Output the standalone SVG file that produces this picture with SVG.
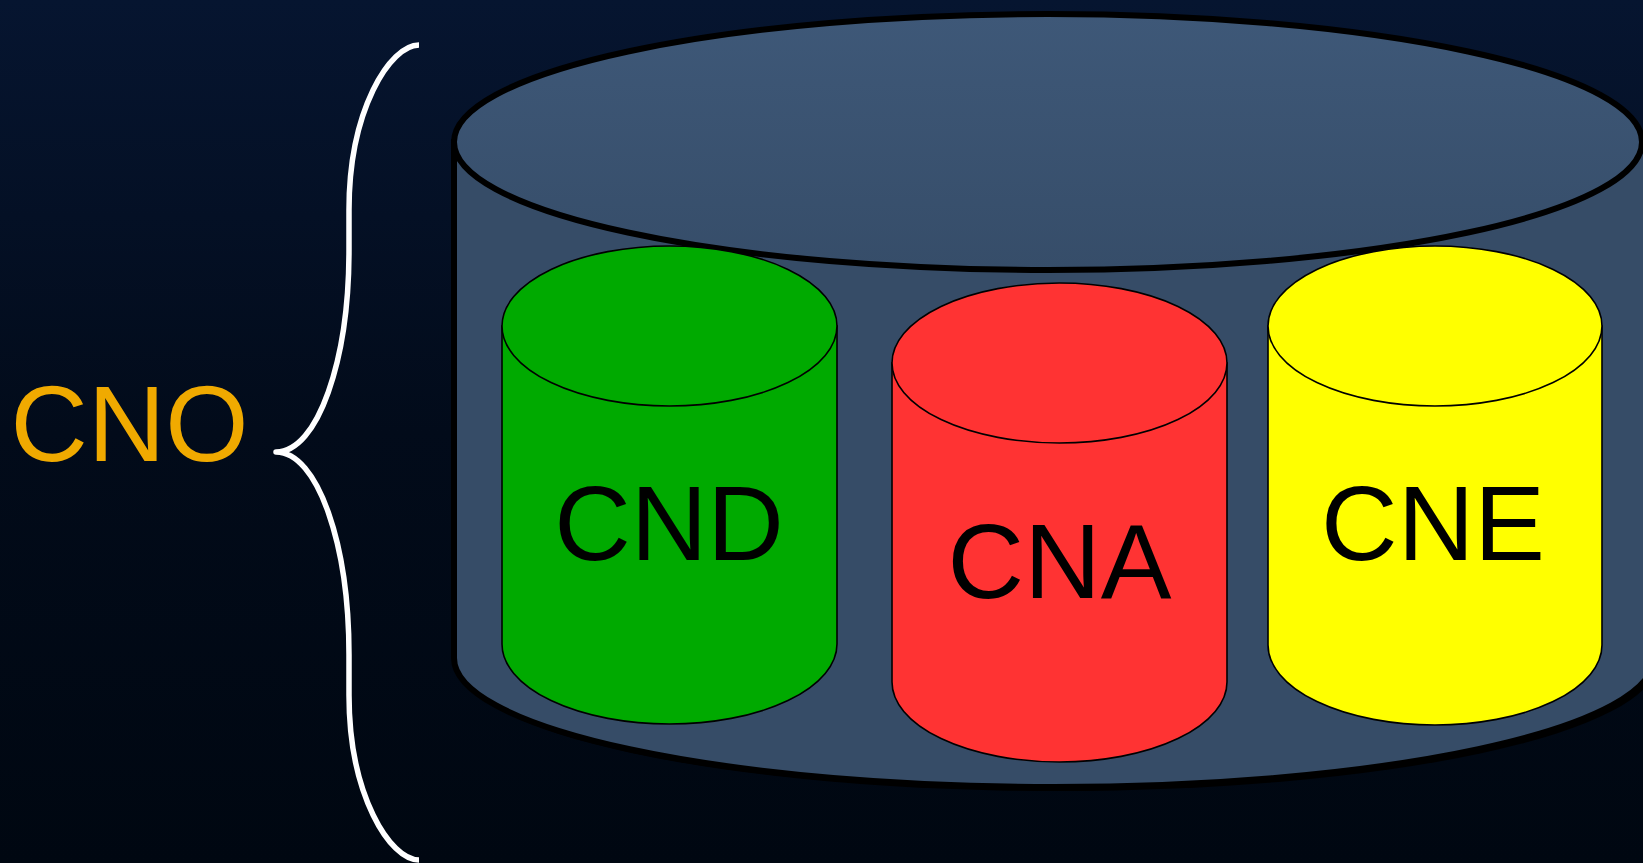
<svg xmlns="http://www.w3.org/2000/svg" width="1643" height="863" viewBox="0 0 1643 863">
  <defs>
    <linearGradient id="bg" x1="0" y1="0" x2="0" y2="1">
      <stop offset="0" stop-color="#061530"/>
      <stop offset="0.5" stop-color="#020b1a"/>
      <stop offset="1" stop-color="#000711"/>
    </linearGradient>
    <linearGradient id="lid" x1="0" y1="0" x2="0" y2="1">
      <stop offset="0" stop-color="#3e5878"/>
      <stop offset="1" stop-color="#364d69"/>
    </linearGradient>
    <style>
      .label { font-family: "Liberation Sans", Arial, sans-serif; font-size: 106px; text-anchor: middle; }
      .drum { stroke: #000; stroke-width: 1.6; }
      .outer { stroke: #000; stroke-width: 6; }
    </style>
  </defs>

  <rect width="1643" height="863" fill="url(#bg)"/>

  <!-- outer container cylinder -->
  <g id="container">
    <path d="M457,145 L457,662 A600,129 0 0 0 1657,662 L1657,145 Z" fill="#000"/>
    <path class="outer" d="M454,142 L454,658 A600,129 0 0 0 1654,658 L1654,142 Z" fill="#364c67"/>
    <ellipse class="outer" cx="1048" cy="142" rx="594" ry="128" fill="url(#lid)"/>
  </g>

  <!-- inner drums -->
  <g id="cnd">
    <path class="drum" d="M502,326 L502,644 A167.5,80 0 0 0 837,644 L837,326 Z" fill="#00aa00"/>
    <ellipse class="drum" cx="669.5" cy="326" rx="167.5" ry="80" fill="#00aa00"/>
    <text class="label" x="669" y="560" fill="#000">CND</text>
  </g>

  <g id="cna">
    <path class="drum" d="M892,363 L892,682 A167.5,80 0 0 0 1227,682 L1227,363 Z" fill="#ff3333"/>
    <ellipse class="drum" cx="1059.5" cy="363" rx="167.5" ry="80" fill="#ff3333"/>
    <text class="label" x="1059.5" y="598" fill="#000">CNA</text>
  </g>

  <g id="cne">
    <path class="drum" d="M1268,326 L1268,645 A167,80 0 0 0 1602,645 L1602,326 Z" fill="#ffff00"/>
    <ellipse class="drum" cx="1435" cy="326" rx="167" ry="80" fill="#ffff00"/>
    <text class="label" x="1433" y="560" fill="#000">CNE</text>
  </g>

  <!-- brace grouping the drums under one label -->
  <g id="connectors">
    <path d="M419,45 C390,45 349,110 349,210 L349,250 C349,360 318,452 276,452 C318,452 349,545 349,655 L349,695 C349,795 390,860 419,860"
          fill="none" stroke="#fff" stroke-width="5.5" stroke-linejoin="round"/>
  </g>

  <g id="cno">
    <text class="label" x="129.5" y="461" fill="#f0aa00" style="font-size:107px">CNO</text>
  </g>
</svg>
